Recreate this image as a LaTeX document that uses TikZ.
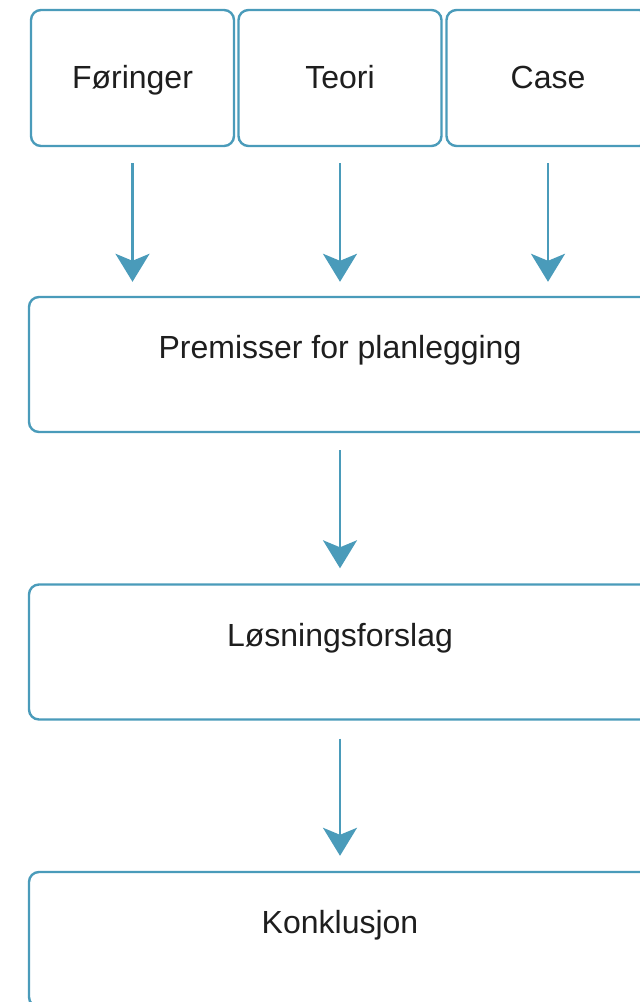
\documentclass[tikz,border=0pt]{standalone}
\usepackage{fontspec}
\setmainfont{Liberation Sans}
\usetikzlibrary{arrows.meta}
\definecolor{edge}{HTML}{4A9BBA}
\definecolor{ink}{HTML}{1E1E1E}
\begin{document}
\begin{tikzpicture}[x=1pt,y=-1pt,
  box/.style={draw=edge,line width=2.4pt,rounded corners=10pt,fill=white,inner sep=0pt},
  topbox/.style={box,minimum width=203pt,minimum height=136pt},
  widebox/.style={box,minimum width=622pt,minimum height=135pt},
  lbl/.style={anchor=base,inner sep=0pt,font=\fontsize{32}{38}\selectfont,text=ink},
  flow/.style={draw=edge,line width=2.4pt,
    -{Stealth[length=28pt,width=34pt,inset=7pt]}}]
\useasboundingbox (0,0) rectangle (640,1002);
\clip (0,0) rectangle (640,1002);

% top row of inputs
\node[topbox] (foringer) at (132.5,78) {};
\node[topbox] (teori)    at (340,78)   {};
\node[topbox] (case)     at (548,78)   {};
\node[lbl] at ([yshift=-80pt]foringer.north) {Føringer};
\node[lbl] at ([yshift=-80pt]teori.north)    {Teori};
\node[lbl] at ([yshift=-80pt]case.north)     {Case};

% main stages
\node[widebox] (premisser) at (340,364.5) {};
\node[widebox] (losning)   at (340,652)   {};
\node[widebox] (konkl)     at (340,939.5) {};
\node[lbl] at ([yshift=-63pt]premisser.north) {Premisser for planlegging};
\node[lbl] at ([yshift=-63pt]losning.north)   {Løsningsforslag};
\node[lbl] at ([yshift=-63pt]konkl.north)     {Konklusjon};

% connectors
\foreach \src in {foringer,teori,case}
  \draw[flow,shorten <=16pt,shorten >=14pt] (\src.south) -- (\src.south |- premisser.north);
\draw[flow,shorten <=17pt,shorten >=15pt] (premisser.south) -- (losning.north);
\draw[flow,shorten <=18pt,shorten >=15pt] (losning.south) -- (konkl.north);
\end{tikzpicture}
\end{document}
